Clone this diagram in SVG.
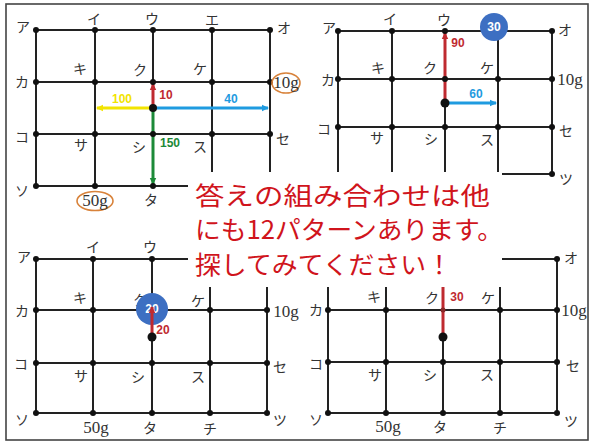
<svg xmlns="http://www.w3.org/2000/svg" width="591" height="444" viewBox="0 0 591 444">
<style>
.ln{stroke:#222;stroke-width:2;fill:none}
.dot{fill:#111}
.big{fill:#111}
.lb{font-family:"Noto Sans CJK JP","Noto Sans CJK SC",sans-serif;font-size:14px;fill:#333;text-anchor:middle}
.g{font-family:"Liberation Serif",serif;font-size:17px;fill:#333;text-anchor:middle}
.num{font-family:"Liberation Sans",Arial,sans-serif;font-size:12px;font-weight:bold;text-anchor:middle}
.ov{fill:none;stroke:#d8823a;stroke-width:1.6}
.circ{fill:#3d6fc2}
.ct{font-family:"Liberation Sans",Arial,sans-serif;font-size:12px;font-weight:bold;fill:#fff;text-anchor:middle}
.red{stroke:#bf2a30;stroke-width:3;fill:none}
.yel{stroke:#f2e400;stroke-width:3;fill:none}
.blu{stroke:#1f9be0;stroke-width:3;fill:none}
.grn{stroke:#1c8a38;stroke-width:3;fill:none}
.msg{font-family:"Noto Sans CJK JP","Noto Sans CJK SC",sans-serif;font-size:25px;fill:#d0141c}
</style>
<defs>
<marker id="mr" markerUnits="userSpaceOnUse" markerWidth="8" markerHeight="8" refX="6" refY="4" orient="auto"><path d="M0,0.8L7,4L0,7.2z" fill="#bf2a30"/></marker>
<marker id="my" markerUnits="userSpaceOnUse" markerWidth="8" markerHeight="8" refX="6" refY="4" orient="auto"><path d="M0,0.8L7,4L0,7.2z" fill="#f2e400"/></marker>
<marker id="mb" markerUnits="userSpaceOnUse" markerWidth="8" markerHeight="8" refX="6" refY="4" orient="auto"><path d="M0,0.8L7,4L0,7.2z" fill="#1f9be0"/></marker>
<marker id="mg" markerUnits="userSpaceOnUse" markerWidth="8" markerHeight="8" refX="6" refY="4" orient="auto"><path d="M0,0.8L7,4L0,7.2z" fill="#1c8a38"/></marker>
</defs>
<rect x="0" y="0" width="591" height="444" fill="#fff"/>
<rect x="6" y="4" width="582" height="436" fill="none" stroke="#444" stroke-width="1.6"/>

<!-- Top-left -->
<g id="tl">
<g id="tl-connectors">
<path class="ln" d="M36,30H270M36,82H270M36,134H270M36,186H270M36,30V186M95,30V186M153,30V186M212,30V186M270,30V186"/>
<line class="red" x1="153" y1="108" x2="153" y2="84" marker-end="url(#mr)"/>
<line class="yel" x1="153" y1="108" x2="97" y2="108" marker-end="url(#my)"/>
<line class="blu" x1="153" y1="108" x2="268" y2="108" marker-end="url(#mb)"/>
<line class="grn" x1="153" y1="108" x2="153" y2="184" marker-end="url(#mg)"/>
</g>
<g id="tl-nodes">
<g class="dot"><circle cx="36" cy="30" r="3"/><circle cx="95" cy="30" r="3"/><circle cx="153" cy="30" r="3"/><circle cx="212" cy="30" r="3"/><circle cx="270" cy="30" r="3"/>
<circle cx="36" cy="82" r="3"/><circle cx="95" cy="82" r="3"/><circle cx="153" cy="82" r="3"/><circle cx="212" cy="82" r="3"/><circle cx="270" cy="82" r="3"/>
<circle cx="36" cy="134" r="3"/><circle cx="95" cy="134" r="3"/><circle cx="153" cy="134" r="3"/><circle cx="212" cy="134" r="3"/><circle cx="270" cy="134" r="3"/>
<circle cx="36" cy="186" r="3"/><circle cx="95" cy="186" r="3"/><circle cx="153" cy="186" r="3"/></g>
<circle class="big" cx="153" cy="108" r="4"/>
<text class="lb" x="23" y="32">ア</text><text class="lb" x="94" y="24">イ</text><text class="lb" x="152" y="24">ウ</text><text class="lb" x="212" y="25">エ</text><text class="lb" x="284" y="33">オ</text>
<text class="lb" x="22" y="87">カ</text><text class="lb" x="80" y="74">キ</text><text class="lb" x="140" y="75">ク</text><text class="lb" x="200" y="74">ケ</text>
<ellipse class="ov" cx="286" cy="83" rx="14" ry="10"/><text class="g" x="286" y="88">10g</text>
<text class="lb" x="22" y="142">コ</text><text class="lb" x="81" y="150">サ</text><text class="lb" x="139" y="152">シ</text><text class="lb" x="200" y="152">ス</text><text class="lb" x="283" y="144">セ</text>
<text class="lb" x="22" y="196">ソ</text>
<ellipse class="ov" cx="95" cy="201" rx="18" ry="9.5"/><text class="g" x="95" y="206">50g</text>
<text class="lb" x="151" y="205">タ</text>
<text class="num" x="166" y="99" fill="#bf2a30">10</text>
<text class="num" x="122" y="103" fill="#f2e400">100</text>
<text class="num" x="231" y="103" fill="#1f9be0">40</text>
<text class="num" x="170" y="147" fill="#1c8a38">150</text>
</g>
</g>

<!-- Top-right -->
<g id="tr">
<g id="tr-connectors">
<path class="ln" d="M338,31H552M338,79H552M338,127H552M338,174H552M338,31V174M392,31V174M445,31V174M498,31V174M552,31V174"/>
<line class="red" x1="445" y1="103" x2="445" y2="33" marker-end="url(#mr)"/>
<line class="blu" x1="445" y1="103" x2="496" y2="103" marker-end="url(#mb)"/>
</g>
<g id="tr-nodes">
<g class="dot"><circle cx="338" cy="31" r="3"/><circle cx="392" cy="31" r="3"/><circle cx="445" cy="31" r="3"/><circle cx="552" cy="31" r="3"/>
<circle cx="338" cy="79" r="3"/><circle cx="392" cy="79" r="3"/><circle cx="445" cy="79" r="3"/><circle cx="498" cy="79" r="3"/><circle cx="552" cy="79" r="3"/>
<circle cx="338" cy="127" r="3"/><circle cx="392" cy="127" r="3"/><circle cx="445" cy="127" r="3"/><circle cx="498" cy="127" r="3"/><circle cx="552" cy="127" r="3"/>
<circle cx="552" cy="174" r="3"/></g>
<circle class="big" cx="445" cy="103" r="4.5"/>
<circle class="circ" cx="494" cy="27" r="14"/><text class="ct" x="494" y="31">30</text>
<text class="lb" x="329" y="33">ア</text><text class="lb" x="390" y="24">イ</text><text class="lb" x="444" y="25">ウ</text><text class="lb" x="565" y="35">オ</text>
<text class="lb" x="328" y="85">カ</text><text class="lb" x="378" y="73">キ</text><text class="lb" x="430" y="73">ク</text><text class="lb" x="487" y="73">ケ</text><text class="g" x="570" y="85">10g</text>
<text class="lb" x="324" y="134">コ</text><text class="lb" x="377" y="143">サ</text><text class="lb" x="431" y="144">シ</text><text class="lb" x="487" y="145">ス</text><text class="lb" x="566" y="136">セ</text>
<text class="lb" x="566" y="184">ツ</text>
<text class="num" x="458" y="47" fill="#bf2a30">90</text>
<text class="num" x="476" y="98" fill="#1f9be0">60</text>
</g>
</g>

<!-- Bottom-left -->
<g id="bl">
<g id="bl-connectors">
<path class="ln" d="M36,259H267M36,310H267M36,363H267M36,413H267M36,259V413M93,259V413M152,259V413M210,259V413M267,259V413"/>
</g>
<g id="bl-nodes">
<g class="dot"><circle cx="36" cy="259" r="3"/><circle cx="93" cy="259" r="3"/><circle cx="152" cy="259" r="3"/>
<circle cx="36" cy="310" r="3"/><circle cx="93" cy="310" r="3"/><circle cx="210" cy="310" r="3"/><circle cx="267" cy="310" r="3"/>
<circle cx="36" cy="363" r="3"/><circle cx="93" cy="363" r="3"/><circle cx="152" cy="363" r="3"/><circle cx="210" cy="363" r="3"/><circle cx="267" cy="363" r="3"/>
<circle cx="36" cy="413" r="3"/><circle cx="93" cy="413" r="3"/><circle cx="152" cy="413" r="3"/><circle cx="210" cy="413" r="3"/><circle cx="267" cy="413" r="3"/></g>
<text class="lb" x="24" y="262">ア</text><text class="lb" x="93" y="252">イ</text><text class="lb" x="150" y="252">ウ</text>
<text class="lb" x="22" y="316">カ</text><text class="lb" x="80" y="303">キ</text><text class="lb" x="140" y="305">ク</text><text class="lb" x="198" y="306">ケ</text><text class="g" x="286" y="317">10g</text>
<circle class="circ" cx="152" cy="309" r="16"/><text class="ct" x="152" y="313">20</text>
<line class="red" x1="152" y1="337" x2="152" y2="307" marker-end="url(#mr)"/>
<circle class="big" cx="152" cy="337" r="4.5"/>
<text class="lb" x="21" y="369">コ</text><text class="lb" x="81" y="381">サ</text><text class="lb" x="138" y="382">シ</text><text class="lb" x="198" y="382">ス</text><text class="lb" x="280" y="372">セ</text>
<text class="lb" x="22" y="425">ソ</text><text class="g" x="96" y="433">50g</text><text class="lb" x="150" y="433">タ</text><text class="lb" x="210" y="434">チ</text><text class="lb" x="280" y="425">ツ</text>
<text class="num" x="163" y="334" fill="#bf2a30">20</text>
</g>
</g>

<!-- Bottom-right -->
<g id="br">
<g id="br-connectors">
<path class="ln" d="M328,259H557M328,310H557M328,362H557M328,413H557M328,259V413M386,259V413M443,259V413M500,259V413M557,259V413"/>
<line class="red" x1="443" y1="337" x2="443" y2="282"/>
</g>
<g id="br-nodes">
<g class="dot"><circle cx="557" cy="259" r="3"/>
<circle cx="328" cy="310" r="3"/><circle cx="386" cy="310" r="3"/><circle cx="443" cy="310" r="2.5" fill="#8a2a2a"/><circle cx="500" cy="310" r="3"/><circle cx="557" cy="310" r="3"/>
<circle cx="328" cy="362" r="3"/><circle cx="386" cy="362" r="3"/><circle cx="443" cy="362" r="3"/><circle cx="500" cy="362" r="3"/><circle cx="557" cy="362" r="3"/>
<circle cx="328" cy="413" r="3"/><circle cx="386" cy="413" r="3"/><circle cx="443" cy="413" r="3"/><circle cx="500" cy="413" r="3"/><circle cx="557" cy="413" r="3"/></g>
<circle class="big" cx="443" cy="337" r="4.5"/>
<text class="lb" x="571" y="263">オ</text>
<text class="lb" x="316" y="315">カ</text><text class="lb" x="374" y="302">キ</text><text class="lb" x="432" y="303">ク</text><text class="lb" x="488" y="303">ケ</text><text class="g" x="574" y="316">10g</text>
<text class="lb" x="316" y="369">コ</text><text class="lb" x="375" y="380">サ</text><text class="lb" x="430" y="380">シ</text><text class="lb" x="487" y="380">ス</text><text class="lb" x="573" y="371">セ</text>
<text class="lb" x="316" y="425">ソ</text><text class="g" x="388" y="432">50g</text><text class="lb" x="440" y="432">タ</text><text class="lb" x="500" y="433">チ</text><text class="lb" x="571" y="426">ツ</text>
<text class="num" x="457" y="301" fill="#bf2a30">30</text>
</g>
</g>

<!-- Message -->
<g id="message">
<rect x="188" y="172" width="314" height="115" fill="#fff"/>
<text class="msg" x="195" y="205" textLength="295" lengthAdjust="spacingAndGlyphs">答えの組み合わせは他</text>
<text class="msg" x="195" y="239" textLength="308" lengthAdjust="spacingAndGlyphs">にも12パターンあります。</text>
<text class="msg" x="195" y="274" textLength="257" lengthAdjust="spacingAndGlyphs">探してみてください！</text>
</g>
</svg>
